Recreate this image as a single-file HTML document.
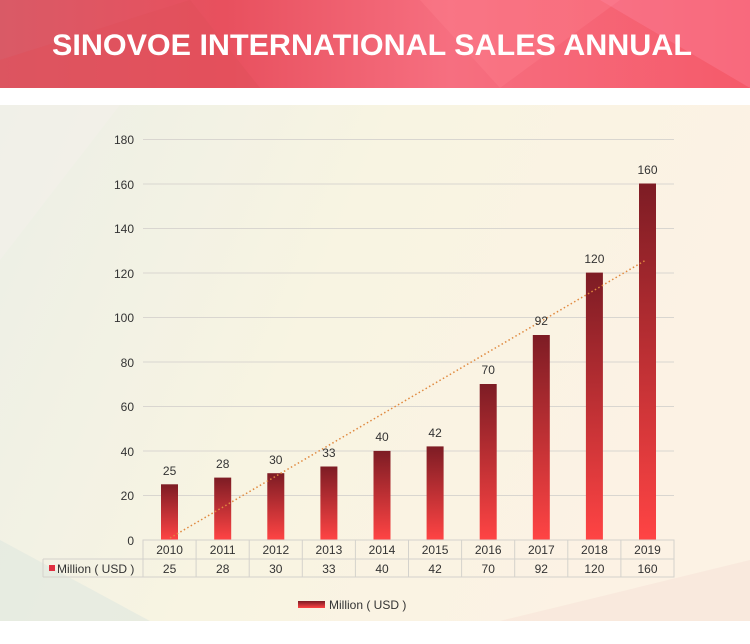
<!DOCTYPE html>
<html><head><meta charset="utf-8"><style>
body{margin:0;width:750px;height:639px;overflow:hidden;background:#fff;font-family:"Liberation Sans",sans-serif}
</style></head><body>
<svg width="750" height="639" viewBox="0 0 750 639" xmlns="http://www.w3.org/2000/svg" font-family="Liberation Sans, sans-serif">
<defs>
<linearGradient id="bar" x1="0" y1="0" x2="0" y2="1"><stop offset="0" stop-color="#7d1c24"/><stop offset="1" stop-color="#ff4444"/></linearGradient>
<linearGradient id="bg" x1="0" y1="0" x2="1" y2="0.3"><stop offset="0" stop-color="#ecefe6"/><stop offset="0.5" stop-color="#f8f4e2"/><stop offset="1" stop-color="#fcf2e4"/></linearGradient>
<linearGradient id="hd" x1="0" y1="0" x2="1" y2="0"><stop offset="0" stop-color="#d95a66"/><stop offset="0.3" stop-color="#e8505e"/><stop offset="0.6" stop-color="#f66f80"/><stop offset="1" stop-color="#f55a6a"/></linearGradient>
</defs>
<rect x="0" y="0" width="750" height="88" fill="url(#hd)"/>
<polygon points="190,0 260,88 0,88 0,60" fill="#e0505a" opacity="0.5"/>
<polygon points="420,0 620,0 500,88" fill="#ff8090" opacity="0.35"/>
<polygon points="600,0 750,0 750,88" fill="#ff90a8" opacity="0.3"/>
<text x="372" y="55" text-anchor="middle" fill="#fff" font-size="30" font-weight="bold" textLength="640" lengthAdjust="spacingAndGlyphs">SINOVOE INTERNATIONAL SALES ANNUAL</text>
<rect x="0" y="105" width="750" height="516" fill="url(#bg)"/>
<polygon points="0,105 120,105 0,260" fill="#f3f0ea" opacity="0.6"/>
<polygon points="0,540 150,621 0,621" fill="#dfe8e0" opacity="0.6"/>
<polygon points="500,621 750,560 750,621" fill="#f8e6da" opacity="0.7"/>
<g stroke="#d9d6d0" stroke-width="1">
<line x1="143" y1="139.5" x2="674" y2="139.5"/><line x1="143" y1="184" x2="674" y2="184"/><line x1="143" y1="228.5" x2="674" y2="228.5"/><line x1="143" y1="273" x2="674" y2="273"/><line x1="143" y1="317.5" x2="674" y2="317.5"/><line x1="143" y1="362" x2="674" y2="362"/><line x1="143" y1="406.5" x2="674" y2="406.5"/><line x1="143" y1="451" x2="674" y2="451"/><line x1="143" y1="495.5" x2="674" y2="495.5"/>
</g>
<g font-size="12" fill="#333" text-anchor="end">
<text x="134" y="144">180</text><text x="134" y="189">160</text><text x="134" y="233">140</text><text x="134" y="278">120</text><text x="134" y="322">100</text><text x="134" y="367">80</text><text x="134" y="411">60</text><text x="134" y="456">40</text><text x="134" y="500">20</text><text x="134" y="545">0</text>
</g>
<g fill="url(#bar)">
<rect x="161" y="484.3" width="17" height="55.7"/>
<rect x="214.2" y="477.6" width="17" height="62.4"/>
<rect x="267.3" y="473.2" width="17" height="66.8"/>
<rect x="320.4" y="466.5" width="17" height="73.5"/>
<rect x="373.5" y="450.9" width="17" height="89.1"/>
<rect x="426.6" y="446.4" width="17" height="93.6"/>
<rect x="479.7" y="384" width="17" height="156"/>
<rect x="532.8" y="335" width="17" height="205"/>
<rect x="585.9" y="272.6" width="17" height="267.4"/>
<rect x="639" y="183.5" width="17" height="356.5"/>
</g>
<line x1="170" y1="538" x2="646" y2="260" stroke="#e08a40" stroke-width="1.5" stroke-dasharray="1.5,2.5"/>
<g font-size="12" fill="#333" text-anchor="middle">
<text x="169.6" y="475">25</text><text x="222.7" y="468">28</text><text x="275.8" y="464">30</text><text x="328.9" y="457">33</text><text x="382" y="441">40</text><text x="435.1" y="437">42</text><text x="488.2" y="374">70</text><text x="541.3" y="325">92</text><text x="594.4" y="263">120</text><text x="647.5" y="174">160</text>
</g>
<g stroke="#d4d2cc" stroke-width="1" fill="none">
<rect x="143" y="540" width="531" height="37"/>
<line x1="43" y1="559" x2="674" y2="559"/><line x1="43" y1="559" x2="43" y2="577"/><line x1="43" y1="577" x2="143" y2="577"/>
<line x1="196.1" y1="540" x2="196.1" y2="577"/><line x1="249.2" y1="540" x2="249.2" y2="577"/><line x1="302.3" y1="540" x2="302.3" y2="577"/><line x1="355.4" y1="540" x2="355.4" y2="577"/><line x1="408.5" y1="540" x2="408.5" y2="577"/><line x1="461.6" y1="540" x2="461.6" y2="577"/><line x1="514.7" y1="540" x2="514.7" y2="577"/><line x1="567.8" y1="540" x2="567.8" y2="577"/><line x1="620.9" y1="540" x2="620.9" y2="577"/>
</g>
<g font-size="12" fill="#333" text-anchor="middle">
<text x="169.6" y="554">2010</text><text x="222.7" y="554">2011</text><text x="275.8" y="554">2012</text><text x="328.9" y="554">2013</text><text x="382" y="554">2014</text><text x="435.1" y="554">2015</text><text x="488.2" y="554">2016</text><text x="541.3" y="554">2017</text><text x="594.4" y="554">2018</text><text x="647.5" y="554">2019</text>
<text x="169.6" y="573">25</text><text x="222.7" y="573">28</text><text x="275.8" y="573">30</text><text x="328.9" y="573">33</text><text x="382" y="573">40</text><text x="435.1" y="573">42</text><text x="488.2" y="573">70</text><text x="541.3" y="573">92</text><text x="594.4" y="573">120</text><text x="647.5" y="573">160</text>
</g>
<rect x="49" y="565" width="6" height="6" fill="#e03040"/>
<text x="57" y="573" font-size="12" fill="#333">Million ( USD )</text>
<rect x="298" y="601" width="27" height="7" fill="url(#bar)"/>
<text x="329" y="609" font-size="12" fill="#333">Million ( USD )</text>
</svg>
</body></html>
